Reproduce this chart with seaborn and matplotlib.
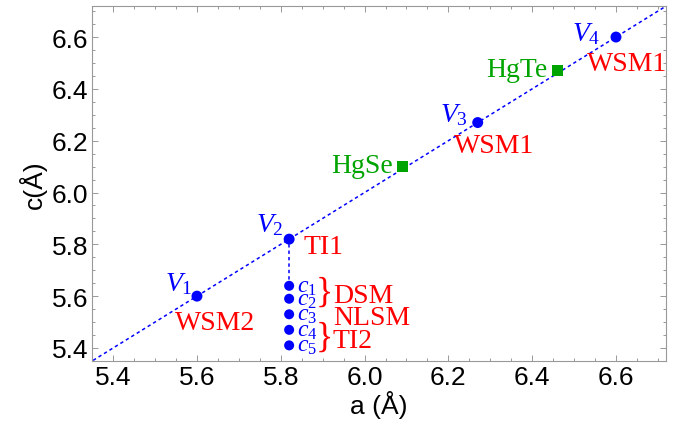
import numpy as np
import pandas as pd
import matplotlib
matplotlib.use("Agg")
import matplotlib.pyplot as plt
import seaborn as sns
from matplotlib.ticker import MultipleLocator

# Vertex structures along the c = a line
v_labels = ["V_1", "V_2", "V_3", "V_4"]
v_a = [5.60, 5.82, 6.27, 6.60]
v_c = [5.60, 5.82, 6.27, 6.60]
v_phase = ["WSM2", "TI1", "WSM1", "WSM1"]

# Reference compounds
cmp_names = ["HgSe", "HgTe"]
cmp_a = [6.09, 6.46]
cmp_c = [6.10, 6.47]

# Compressed-c series at a = a(V2)
cs_labels = ["c_1", "c_2", "c_3", "c_4", "c_5"]
cs_a = [5.82, 5.82, 5.82, 5.82, 5.82]
cs_c = [5.64, 5.59, 5.53, 5.47, 5.41]

# Diagonal guide and axis limits
diag = [5.30, 6.80]
lim = (5.35, 6.72)
ticks = [5.4, 5.6, 5.8, 6.0, 6.2, 6.4, 6.6]

BLUE = "#0000FF"
RED = "#FF0000"
GREEN = "#00A400"

sns.set_theme(style="white")
plt.rcParams["font.family"] = ["Liberation Sans", "DejaVu Sans"]
plt.rcParams["mathtext.fontset"] = "custom"
plt.rcParams["mathtext.rm"] = "Liberation Serif"
plt.rcParams["mathtext.it"] = "Liberation Serif:italic"

fig = plt.figure(figsize=(6.73, 4.35), dpi=100)
ax = fig.add_axes([0.137, 0.168, 0.853, 0.816])

dash = (0, (2.2, 2.0))
sns.lineplot(x=diag, y=diag, ax=ax, color=BLUE, lw=1.1, linestyle=dash,
             estimator=None, sort=False, zorder=2)
sns.lineplot(x=[cs_a[0], v_a[1]], y=[cs_c[0], v_c[1]], ax=ax, color=BLUE,
             lw=1.1, linestyle=dash, estimator=None, sort=False, zorder=2)

vdf = pd.DataFrame({"a": v_a, "c": v_c})
sns.scatterplot(data=vdf, x="a", y="c", ax=ax, color=BLUE, s=62,
                edgecolor="none", zorder=3)
cdf = pd.DataFrame({"a": cs_a, "c": cs_c})
sns.scatterplot(data=cdf, x="a", y="c", ax=ax, color=BLUE, s=52,
                edgecolor="none", zorder=3)
mdf = pd.DataFrame({"a": cmp_a, "c": cmp_c})
sns.scatterplot(data=mdf, x="a", y="c", ax=ax, color=GREEN, marker="s", s=58,
                edgecolor="none", zorder=3)

serif = ["Liberation Serif", "DejaVu Serif"]
FS = 20

# vertex names (offsets in points from each marker)
v_off = [(-3, 4), (-4, 6), (-7, 1), (-11, -2)]
for lab, x, y, off in zip(v_labels, v_a, v_c, v_off):
    ax.annotate(f"${lab}$", (x, y), xytext=off, textcoords="offset points",
                ha="right", va="baseline", color=BLUE, fontsize=FS)

# phase labels under each vertex
p_off = [(-16, -24), (10, -10), (-17, -21), (-21, -24)]
for lab, x, y, off in zip(v_phase, v_a, v_c, p_off):
    ax.annotate(lab, (x, y), xytext=off, textcoords="offset points",
                ha="left", va="baseline", color=RED, fontsize=FS, family=serif)

for lab, x, y in zip(cmp_names, cmp_a, cmp_c):
    ax.annotate(lab, (x, y), xytext=(-7, -4), textcoords="offset points",
                ha="right", va="baseline", color=GREEN, fontsize=FS, family=serif)

for lab, x, y in zip(cs_labels, cs_a, cs_c):
    ax.annotate(f"${lab}$", (x, y), xytext=(5.5, -4), textcoords="offset points",
                ha="left", va="baseline", color=BLUE, fontsize=17)

# braces grouping the c-series and their phases
groups = [((cs_c[0] + cs_c[1]) / 2, "DSM", True),
          (cs_c[2], "NLSM", False),
          ((cs_c[3] + cs_c[4]) / 2, "TI2", True)]
for y, lab, brace in groups:
    if brace:
        ax.annotate("}", (cs_a[0], y), xytext=(25.5, 0), textcoords="offset points",
                    ha="center", va="center", color=RED, fontsize=26, family=serif)
    ax.annotate(lab, (cs_a[0], y), xytext=(31.5, -7), textcoords="offset points",
                ha="left", va="baseline", color=RED, fontsize=FS, family=serif)

ax.set_xlim(*lim)
ax.set_ylim(*lim)
ax.set_xticks(ticks)
ax.set_yticks(ticks)
ax.set_xticklabels([f"{t:.1f}" for t in ticks])
ax.set_yticklabels([f"{t:.1f}" for t in ticks])
ax.xaxis.set_minor_locator(MultipleLocator(0.05))
ax.yaxis.set_minor_locator(MultipleLocator(0.05))
ax.tick_params(which="both", direction="in", top=True, right=True,
               bottom=True, left=True, color="#999999", width=0.7,
               labelsize=19, labelcolor="black", pad=3)
ax.tick_params(which="major", length=4)
ax.tick_params(which="minor", length=2)
for sp in ax.spines.values():
    sp.set_color("#999999")
    sp.set_linewidth(0.8)

ax.set_xlabel("a (Å)", fontsize=19, color="black", labelpad=1)
ax.set_ylabel("c(Å)", fontsize=19, color="black", labelpad=3)

fig.savefig("out.png", dpi=100)
